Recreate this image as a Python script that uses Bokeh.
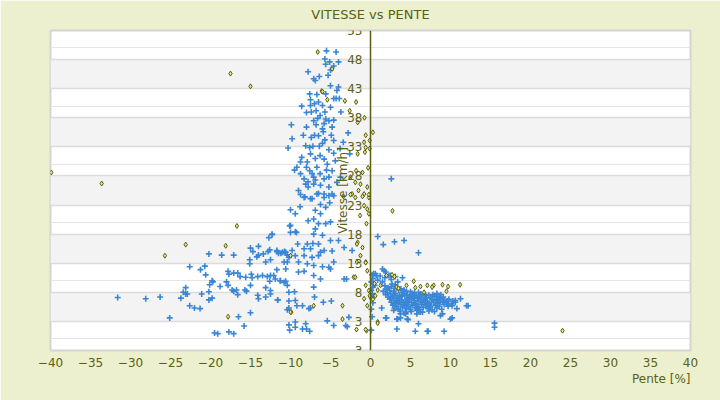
from bokeh.plotting import figure
from bokeh.models import LinearAxis, FixedTicker, Range1d, Grid, ColumnDataSource, Title
from bokeh.embed import file_html
from bokeh.resources import INLINE

title_text = "VITESSE vs PENTE"
x_label = "Pente [%]"
y_label = "Vitesse [km/h]"
x_ticks = [-40, -35, -30, -25, -20, -15, -10, -5, 0, 5, 10, 15, 20, 25, 30, 35, 40]
y_ticks = [-2, 3, 8, 13, 18, 23, 28, 33, 38, 43, 48, 53]
y_tick_labels = {-2: "3"}

# series 1 (blue crosses): (pente, vitesse)
blue_tall = [
    (-5.5, 49.5), (-4.3, 49.3), (-5.7, 48.1), (-5.1, 47.6), (-4.0, 47.6), (-5.6, 47.2), (-4.6, 46.9),
    (-7.8, 45.9), (-5.0, 46.2), (-5.3, 45.3), (-7.1, 44.7), (-6.9, 44.4), (-6.4, 45.1), (-5.0, 43.5),
    (-4.0, 43.3), (-4.2, 42.7), (-7.6, 42.1), (-6.7, 42.0), (-5.6, 42.1), (-4.6, 41.3), (-4.3, 41.3),
    (-3.9, 41.3), (-7.5, 41.1), (-6.5, 40.7), (-8.6, 40.0), (-7.5, 40.1), (-7.0, 40.4), (-6.0, 40.1),
    (-5.0, 39.8), (-8.0, 38.9), (-7.4, 39.0), (-6.8, 39.2), (-5.7, 39.0), (-3.7, 39.0), (-6.3, 38.4),
    (-5.6, 37.8), (-5.2, 37.5), (-4.6, 37.6), (-7.1, 37.5), (-6.8, 36.8), (-5.8, 37.0), (-4.8, 36.4),
    (-9.9, 36.8), (-8.0, 36.4), (-6.0, 36.1), (-2.8, 35.4), (-9.8, 34.4), (-7.4, 34.6), (-7.0, 35.0),
    (-6.5, 34.9), (-5.7, 34.2), (-4.6, 34.1), (-10.3, 32.8), (-8.1, 33.2), (-7.6, 32.9), (-7.2, 33.1),
    (-6.4, 33.1), (-5.2, 32.5), (-3.8, 32.7), (-2.6, 31.8), (-7.5, 31.8), (-6.3, 31.5), (-5.8, 30.9),
    (-7.9, 30.4), (-8.75, 30.4), (-9.2, 29.5), (-8.0, 29.5), (-7.6, 28.9), (-7.3, 28.4), (-7.1, 27.8),
    (-8.3, 27.5), (-8.1, 26.6), (-7.8, 26.1), (-6.7, 29.5), (-6.3, 28.4), (-5.8, 27.5), (-5.2, 27.8),
    (-4.8, 28.9), (-4.2, 26.9), (-3.75, 27.8), (-8.75, 28.4), (-7.1, 26.6), (-6.25, 26.4), (-5.2, 26.1),
    (-9.0, 25.5), (-8.2, 24.4), (-7.5, 24.1), (-6.7, 24.9), (-5.8, 24.9), (-4.6, 24.6), (-9.5, 29.0),
    (-8.6, 31.2), (-6.9, 31.0), (-5.4, 30.0), (-4.4, 30.6), (-6.0, 33.6), (-8.4, 35.0), (-5.9, 35.6),
    (-4.9, 35.0), (-6.6, 37.9), (-3.4, 33.8), (-7.8, 27.0), (-6.9, 27.3), (-5.5, 29.0), (-4.6, 31.9),
    (-8.75, 24.8), (-8.3, 24.3), (-7.3, 24.1), (-6.5, 25.0), (-5.8, 24.3), (-5.2, 24.6), (-4.8, 24.9),
    (-8.8, 22.7), (-6.25, 23.1), (-5.6, 22.6), (-5.1, 23.4), (-10.0, 22.2), (-9.4, 21.5), (-6.9, 22.1),
    (-6.25, 21.5), (-7.8, 20.3), (-7.1, 20.6), (-5.6, 19.8), (-5.0, 20.1), (-10.0, 19.5), (-6.9, 18.9),
    (-6.5, 19.8), (-10.0, 18.3), (-9.25, 18.3), (-12.3, 18.0), (-7.1, 18.0), (-6.0, 17.8), (-5.0, 16.9),
    (-9.1, 16.3), (-7.9, 16.3), (-7.2, 16.4), (-6.5, 16.3), (-4.0, 16.9), (-3.3, 15.7), (-11.7, 15.2),
    (-11.0, 14.9), (-10.6, 14.9), (-9.8, 15.2), (-8.3, 15.5), (-7.5, 15.5), (-6.25, 14.9), (-5.8, 15.2),
    (-4.8, 15.1), (-2.3, 15.2), (-10.2, 14.0), (-9.4, 14.3), (-8.3, 14.3), (-7.3, 14.0), (-6.5, 14.3),
    (-4.6, 13.2), (-10.8, 13.2), (-9.0, 13.2), (-7.9, 12.9), (-7.1, 12.6), (-6.0, 12.4), (-5.2, 12.3),
    (-11.7, 11.9), (-10.6, 12.0), (-9.0, 11.5), (-8.3, 11.6), (-7.1, 10.9), (-6.25, 10.3), (-5.0, 12.0),
    (-3.3, 10.3), (-3.0, 10.3), (-12.1, 10.9), (-11.25, 10.0), (-10.6, 9.9), (-7.1, 8.9), (-9.5, 8.1),
    (-12.5, 7.7), (-11.6, 6.7), (-7.0, 7.2), (-5.9, 6.3), (-4.9, 6.5), (-9.4, 6.6), (-9.2, 5.7),
    (-8.5, 5.7), (-7.7, 5.2), (-7.5, 5.3), (-5.4, 3.1), (-2.7, 3.7), (-9.4, 2.9), (-9.4, 2.0),
    (-8.5, 1.7), (-8.1, 2.6), (-8.0, 1.7), (-7.6, 1.3), (-4.6, 2.3), (-3.1, 2.3), (-2.9, 2.1),
]
blue_left = [
    (-10.1, 19.4), (-9.4, 18.4), (-12.7, 17.4), (-12.3, 17.9), (-15.0, 15.6), (-14.0, 15.9),
    (-14.7, 15.0), (-14.2, 14.1), (-14.0, 14.4), (-13.4, 14.6), (-12.8, 15.0), (-12.6, 15.3),
    (-15.1, 13.6), (-15.1, 12.9), (-13.1, 13.2), (-12.5, 13.6), (-11.7, 15.0), (-11.5, 14.7),
    (-11.2, 14.7), (-10.75, 15.0), (-10.4, 14.4), (-10.4, 13.2), (-20.2, 14.6), (-18.6, 14.4),
    (-17.1, 14.4), (-22.6, 12.4), (-21.25, 11.9), (-20.7, 12.5), (-20.6, 11.0), (-20.1, 9.3),
    (-19.8, 10.0), (-19.7, 9.8), (-18.8, 9.0), (-17.8, 11.6), (-17.7, 11.1), (-18.0, 9.8),
    (-17.8, 9.2), (-17.1, 11.3), (-16.6, 11.3), (-16.3, 10.7), (-15.6, 10.6), (-14.9, 11.1),
    (-14.8, 10.5), (-14.1, 10.7), (-13.5, 10.9), (-12.9, 10.7), (-12.5, 10.9), (-11.9, 10.3),
    (-11.3, 10.0), (-10.8, 9.7), (-10.4, 9.2), (-15.0, 9.2), (-17.3, 8.4), (-17.1, 8.2),
    (-16.75, 8.4), (-15.7, 8.4), (-15.5, 8.2), (-16.6, 7.6), (-14.1, 7.5), (-14.0, 6.9),
    (-13.1, 8.8), (-13.1, 7.2), (-12.5, 8.3), (-12.6, 9.9), (-11.6, 6.7), (-10.2, 8.0),
    (-10.2, 6.5), (-28.1, 6.9), (-26.3, 7.2), (-23.7, 7.0), (-23.1, 8.8), (-23.1, 7.7),
    (-23.4, 8.0), (-22.9, 7.7), (-21.1, 7.7), (-20.2, 8.1), (-20.2, 6.7), (-19.8, 7.0),
    (-22.6, 5.7), (-22.0, 5.3), (-21.3, 5.2), (-25.1, 3.6), (-16.5, 3.8), (-15.0, 4.5),
    (-15.8, 2.2), (-19.5, 1.0), (-19.1, 0.9), (-17.7, 1.2), (-17.1, 0.9), (-10.4, 5.0),
    (-10.2, 5.3), (-10.2, 2.4), (-10.1, 1.5), (-31.6, 7.1),
]
blue_right = [
    (2.6, 27.5), (0.9, 17.6), (1.6, 16.2), (3.0, 16.7), (4.2, 16.9), (6.0, 14.8),
    (1.4, 5.3), (2.0, 3.6), (3.3, 3.4), (3.75, 3.6), (4.6, 3.4), (3.3, 1.7), (5.6, 1.3),
    (7.1, 1.3), (7.2, 1.3), (9.2, 1.3), (15.5, 2.7), (15.5, 2.0), (12.0, 5.7), (10.6, 6.6),
    (0.2, 11.0), (0.1, 9.8), (0.3, 8.9), (0.1, 8.3), (0.2, 7.8), (0.1, 7.3), (0.2, 6.9),
    (0.3, 6.2), (0.1, 5.1), (0.2, 3.8), (0.1, 1.5), (0.3, 10.4), (0.5, 9.2), (0.15, 7.6),
    (0.6, 11.2), (1.2, 10.8), (1.8, 10.5), (2.3, 10.9), (0.9, 10.1), (1.5, 9.8), (2.6, 10.2),
    (3.4, 9.8), (0.4, 9.5), (1.5, 12.0), (1.7, 11.7), (1.9, 11.5), (2.5, 10.9), (3.1, 10.7),
    (0.4, 11.2), (0.75, 10.9), (4.0, 10.5), (2.7, 9.4), (3.1, 9.3), (8.3, 7.8), (8.8, 7.6),
    (11.25, 6.9), (12.2, 5.7), (9.6, 6.0), (10.2, 5.7), (10.8, 5.2), (9.0, 4.3), (8.75, 4.0),
    (5.8, 4.3), (6.25, 4.6), (3.75, 4.3), (4.2, 4.4), (4.4, 4.3), (2.9, 4.9), (1.9, 3.6),
    (3.4, 3.4), (4.7, 3.3), (10.2, 3.6), (10.0, 3.4), (6.0, 2.6),
    (1.8, 9.1), (2.2, 8.8), (2.6, 9.0), (3.0, 8.7), (3.3, 8.9), (3.8, 8.6), (2.0, 8.5), (4.2, 8.4),
    (1.6, 8.2), (2.4, 8.3), (2.9, 8.1), (3.5, 8.4), (4.0, 8.0), (4.5, 8.2), (5.0, 8.1), (5.5, 7.9),
    (6.0, 8.0), (2.1, 7.9), (1.9, 7.6), (2.5, 7.7), (3.1, 7.8), (3.6, 7.5), (4.1, 7.7), (4.6, 7.6),
    (5.2, 7.8), (5.7, 7.5), (6.3, 7.7), (6.8, 7.6), (7.3, 7.5), (7.8, 7.6), (8.3, 7.3),
    (2.2, 7.2), (2.7, 7.3), (3.2, 7.0), (3.7, 7.2), (4.3, 7.4), (4.8, 7.1), (5.3, 7.3), (5.9, 7.0),
    (6.4, 7.2), (6.9, 7.4), (7.5, 7.1), (8.0, 7.3), (8.6, 7.0), (9.1, 7.2),
    (2.4, 6.8), (2.9, 6.6), (3.4, 6.9), (3.9, 6.7), (4.4, 6.5), (4.9, 6.8), (5.5, 6.6), (6.0, 6.9),
    (6.6, 6.7), (7.1, 6.5), (7.7, 6.8), (8.2, 6.6), (8.8, 6.9), (9.3, 6.6), (9.8, 6.8), (10.3, 6.5),
    (2.6, 6.3), (3.1, 6.1), (3.6, 6.4), (4.1, 6.2), (4.6, 6.0), (5.1, 6.3), (5.7, 6.1), (6.2, 6.4),
    (6.8, 6.2), (7.3, 6.0), (7.9, 6.3), (8.4, 6.1), (9.0, 6.4), (9.5, 6.2), (10.1, 6.0), (10.6, 6.3),
    (2.8, 5.8), (3.3, 5.6), (3.8, 5.9), (4.3, 5.7), (4.8, 5.5), (5.3, 5.8), (5.9, 5.6), (6.4, 5.9),
    (7.0, 5.7), (7.5, 5.5), (8.1, 5.8), (8.6, 5.6), (9.2, 5.9), (9.7, 5.6),
    (3.0, 5.3), (3.5, 5.1), (4.0, 5.4), (4.5, 5.2), (5.0, 5.0), (5.6, 5.3), (6.1, 5.1), (6.6, 5.4),
    (7.2, 5.2), (7.7, 5.0), (8.3, 5.3), (8.9, 5.1),
    (3.7, 4.8), (4.4, 4.6), (5.1, 4.7), (5.8, 4.9), (6.5, 4.6), (7.3, 4.8), (8.0, 4.7),
    (3.2, 6.5), (4.7, 6.3), (5.4, 7.0), (6.5, 6.3), (7.6, 6.2), (4.2, 5.9), (5.6, 5.9), (6.9, 5.9),
    (3.9, 7.3), (5.0, 7.5), (6.1, 7.5), (7.0, 7.0), (8.4, 6.8), (4.6, 6.9), (3.5, 6.3), (6.0, 5.4),
    (7.4, 5.6), (8.7, 6.3), (9.6, 6.5), (2.5, 7.0), (3.0, 7.5),
]
blue_points = blue_tall + blue_left + blue_right

# series 2 (olive diamonds): (pente, vitesse)
olive_points = [
    (-39.9, 28.6), (-33.6, 26.7), (-17.5, 45.6), (-15.0, 43.4), (-16.7, 19.4), (-23.1, 16.2),
    (-25.7, 14.3), (-18.1, 16.0), (-17.8, 3.8), (-9.9, 4.6), (-10.0, 14.3), (24.0, 1.4),
    (-6.6, 49.3), (-4.8, 46.4), (-6.1, 42.6), (-5.4, 41.1), (-6.0, 42.5), (-3.2, 40.9),
    (-1.8, 40.7), (-2.6, 39.2), (-0.75, 38.0), (-1.6, 37.2), (-0.6, 35.0), (-0.1, 34.1),
    (-0.8, 33.8), (-0.6, 32.9), (-0.1, 32.7), (-1.6, 31.8), (-0.7, 32.1), (0.3, 35.5),
    (-2.5, 27.8), (-1.9, 26.9), (-1.25, 26.6), (-0.4, 26.1), (-1.5, 25.5), (-0.8, 24.9),
    (-2.3, 24.9), (-0.2, 24.3), (-1.0, 28.6), (-0.3, 29.4), (-1.8, 28.9),
    (-3.4, 24.5), (-2.5, 24.8), (-1.9, 24.3), (-1.0, 24.5), (-0.2, 24.8), (-0.8, 22.9),
    (-0.4, 22.3), (-1.3, 21.2), (-0.2, 21.5), (-0.5, 19.8), (-1.6, 16.6), (-1.25, 14.3),
    (-1.7, 13.2), (-2.1, 10.6), (-0.6, 13.2), (-0.4, 11.7), (-0.6, 9.2), (-0.2, 8.3),
    (-0.4, 5.7), (-0.5, 1.4), (-1.7, 16.3), (-1.0, 15.7), (-0.6, 13.1), (-1.9, 10.6),
    (0.0, 8.0), (-0.1, 7.4), (-0.8, 6.9), (-3.5, 5.7), (-7.1, 5.7), (-0.6, 1.6), (-10.0, 4.6),
    (-3.5, 3.4), (-1.75, 1.6), (2.75, 22.0),
    (0.9, 2.9), (2.7, 11.0), (3.0, 10.7), (5.4, 9.9), (4.5, 9.2), (6.25, 9.0), (7.1, 9.2),
    (7.9, 9.2), (7.7, 8.9), (9.0, 9.3), (9.7, 9.0), (11.2, 9.3), (9.5, 8.2), (6.7, 8.0),
    (5.6, 8.8), (3.25, 8.9), (3.5, 8.7), (2.0, 10.9), (0.9, 8.4), (1.25, 9.2), (0.5, 9.5),
    (0.6, 7.4), (0.3, 6.8), (0.9, 2.7),
]

blue_x = [pt[0] for pt in blue_points]
blue_y = [pt[1] for pt in blue_points]
olive_x = [pt[0] for pt in olive_points]
olive_y = [pt[1] for pt in olive_points]

TXT = "#5a6113"
FONT = "DejaVu Sans"

p = figure(width=720, height=400, output_backend="svg", toolbar_location=None,
           x_range=Range1d(-40, 40), y_range=Range1d(-2, 53),
           y_axis_location=None,
           min_border_left=50, min_border_right=30, min_border_top=30, min_border_bottom=50,
           background_fill_color="white", border_fill_color="#ecf0cf")

p.title.text = title_text
p.title.align = "center"
p.title.vertical_align = "top"
p.title.text_font = FONT
p.title.text_font_size = "13px"
p.title.text_font_style = "normal"
p.title.text_color = TXT
p.title.offset = -10
p.title.standoff = 13

p.outline_line_color = "#d4d4d4"
p.outline_line_width = 2

p.xgrid.visible = False

grid = Grid(dimension=1, ticker=FixedTicker(ticks=y_ticks),
            grid_line_color="#dcdcdc", grid_line_width=1.5,
            band_fill_color="#f3f3f3", band_fill_alpha=1.0)
p.add_layout(grid)

xa = p.xaxis[0]
xa.ticker = FixedTicker(ticks=x_ticks)
xa.axis_line_color = None
xa.major_tick_line_color = None
xa.minor_tick_line_color = None
xa.major_tick_out = 0
xa.major_tick_in = 0
xa.major_label_text_font = FONT
xa.major_label_text_font_size = "12px"
xa.major_label_text_color = TXT
xa.major_label_standoff = 7

ya = LinearAxis(fixed_location=0, ticker=FixedTicker(ticks=y_ticks),
                major_label_overrides=y_tick_labels,
                axis_line_color="#5a6113", axis_line_width=1.5,
                major_tick_line_color=None, minor_tick_line_color=None,
                major_tick_out=0, major_tick_in=0,
                major_label_text_font=FONT, major_label_text_font_size="12px",
                major_label_text_color=TXT, major_label_standoff=8,
                axis_label=y_label, axis_label_text_font=FONT,
                axis_label_text_font_size="12px", axis_label_text_font_style="normal",
                axis_label_text_color=TXT, axis_label_standoff=-6)
p.add_layout(ya, "left")

xtitle = Title(text=x_label, align="right", text_font=FONT, text_font_size="12px",
               text_font_style="normal", text_color=TXT, standoff=0, offset=0)
p.add_layout(xtitle, "below")

bsrc = ColumnDataSource(data=dict(x=blue_x, y=blue_y))
osrc = ColumnDataSource(data=dict(x=olive_x, y=olive_y))
p.scatter("x", "y", source=bsrc, marker="cross", size=6, line_width=1.6, line_color="#3a86d6")
p.scatter("x", "y", source=osrc, marker="diamond", size=5, line_width=1,
          line_color="#5c5f0c", fill_color="#dfe48c")

open("out.html", "w").write(file_html(p, INLINE))
